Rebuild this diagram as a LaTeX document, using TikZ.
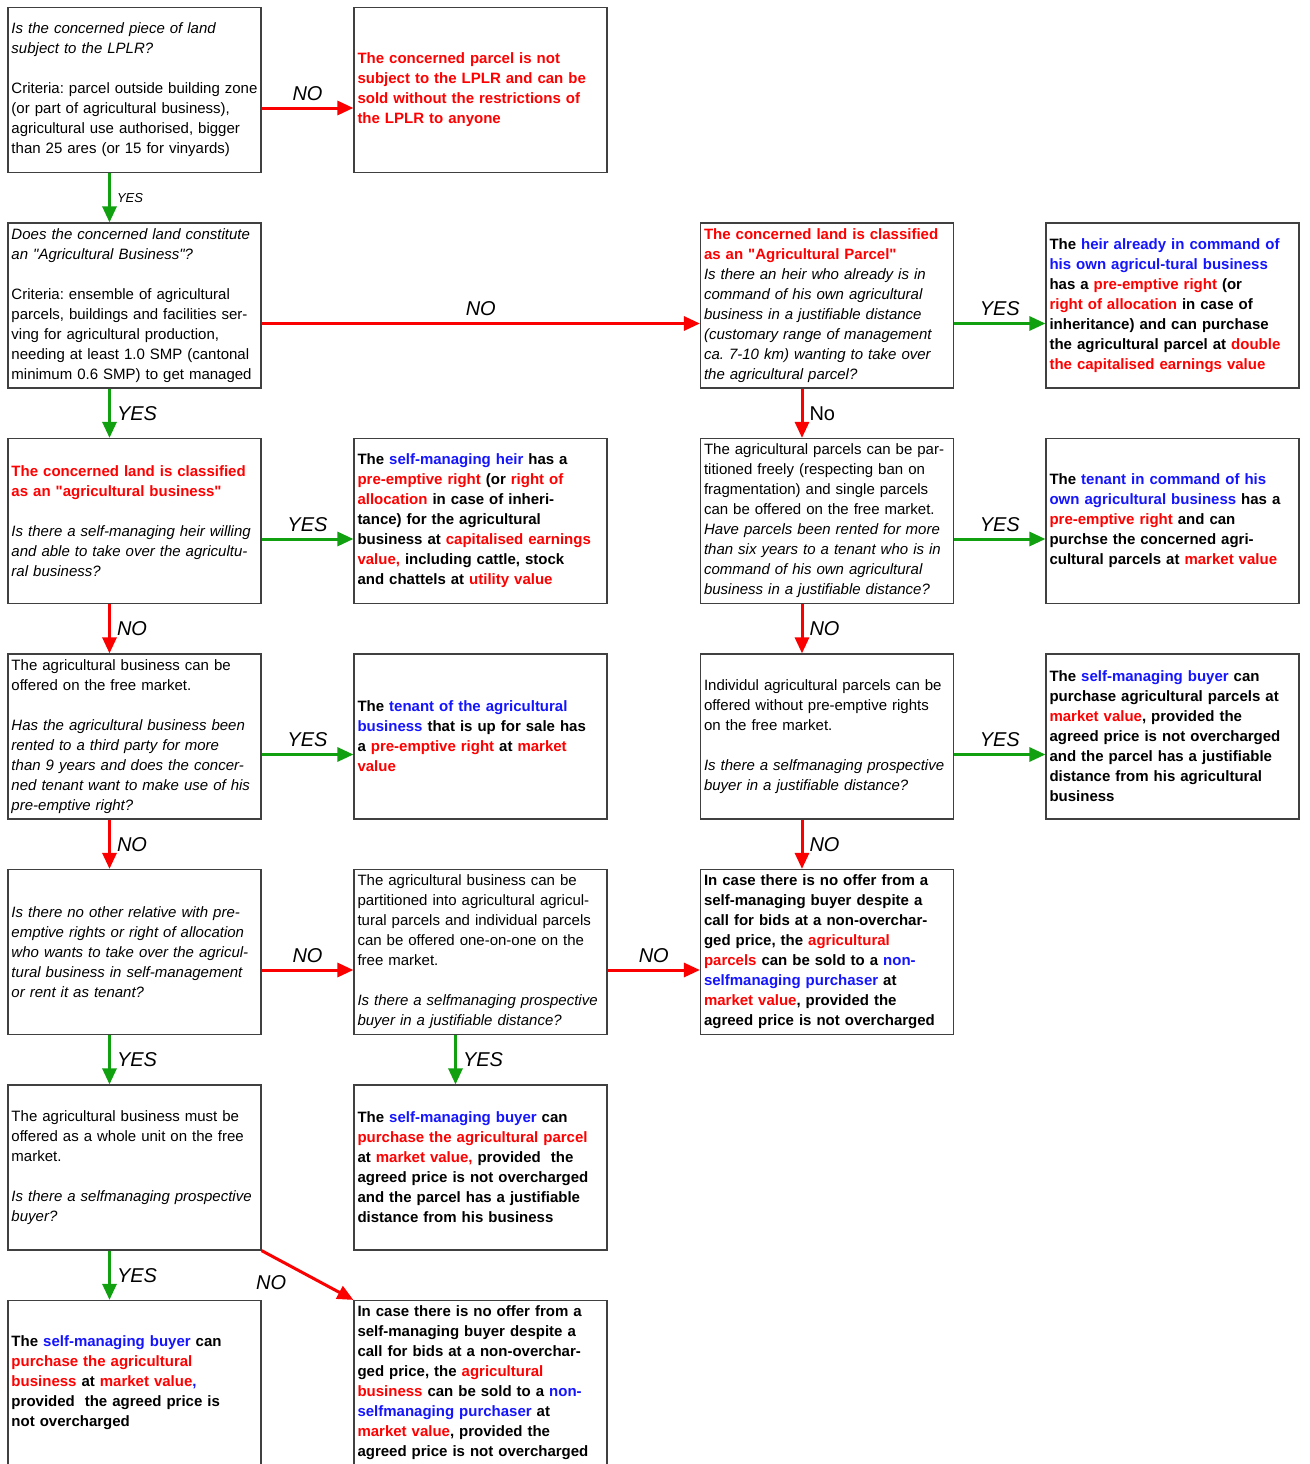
\documentclass[tikz,border=0pt]{standalone}
\usepackage{fontspec}
\setmainfont{Liberation Sans}[Ligatures=TeXOff]
\usetikzlibrary{arrows.meta}

\definecolor{yesgreen}{RGB}{16,160,16}
\definecolor{nored}{RGB}{250,0,0}
\definecolor{boxgray}{RGB}{64,64,64}
\definecolor{kwblue}{RGB}{20,20,255}
\newcommand{\redw}[1]{\textcolor{red}{#1}}
\newcommand{\bluew}[1]{\textcolor{kwblue}{#1}}
\frenchspacing

\begin{document}
\begin{tikzpicture}[x=1pt,y=-1pt,auto,node distance=215.5pt,
	>={Triangle[length=16pt,width=14pt]}]
	\tikzstyle{box}=[draw=boxgray,line width=1.2pt,fill=white,text=black,
	  text width=246pt,inner sep=3.5pt,minimum height=165pt,align=left,
	  font=\fontsize{15}{20}\selectfont]
	\tikzstyle{bbox}=[box,font=\fontsize{15}{20}\selectfont\bfseries]
	\tikzstyle{yes}=[->,draw=yesgreen,line width=3pt]
	\tikzstyle{no}=[->,draw=nored,line width=3pt]
	\tikzstyle{lbl}=[font=\fontsize{20}{24}\selectfont\itshape,text=black,inner sep=6pt]

	\fill[white] (0,0) rectangle (1309,1464);
	\useasboundingbox (0,0) rectangle (1309,1464);

	\node[box] (A1) at (134.5,90) {{\itshape Is the concerned piece of land\\subject to the LPLR?}\\[20pt]
	  Criteria: parcel outside building zone\\(or part of agricultural business),\\agricultural use authorised, bigger\\than 25 ares (or 15 for vinyards)};
	\node[bbox] (B1) [right of=A1, node distance=346pt] {\color{red}The concerned parcel is not\\subject to the LPLR and can be\\sold without the restrictions of\\the LPLR to anyone};

	\node[box] (A2) [below of=A1] {{\itshape Does the concerned land constitute\\an "Agricultural Business"?}\\[20pt]
	  Criteria: ensemble of agricultural\\parcels, buildings and facilities ser-\\ving for agricultural production,\\needing at least 1.0 SMP (cantonal\\minimum 0.6 SMP) to get managed};
	\node[box] (C2) [right of=A2, node distance=692.5pt] {{\bfseries\color{red}The concerned land is classified\\as an "Agricultural Parcel"}\\
	  {\itshape Is there an heir who already is in\\command of his own agricultural\\business in a justifiable distance\\(customary range of management\\ca. 7-10 km) wanting to take over\\the agricultural parcel?}};
	\node[bbox] (D2) [right of=C2, node distance=345.5pt] {The \bluew{heir already in command of}\\\bluew{his own agricul-tural business}\\has a \redw{pre-emptive right} (or\\\redw{right of allocation} in case of\\inheritance) and can purchase\\the agricultural parcel at \redw{double}\\\redw{the capitalised earnings value}};

	\node[box] (A3) [below of=A2] {{\bfseries\color{red}The concerned land is classified\\as an "agricultural business"}\\[20pt]
	  {\itshape Is there a self-managing heir willing\\and able to take over the agricultu-\\ral business?}};
	\node[bbox] (B3) [right of=A3, node distance=346pt] {The \bluew{self-managing heir} has a\\\redw{pre-emptive right} (or \redw{right of}\\\redw{allocation} in case of inheri-\\tance) for the agricultural\\business at \redw{capitalised earnings}\\\redw{value,} including cattle, stock\\and chattels at \redw{utility value}};
	\node[box] (C3) [below of=C2] {The agricultural parcels can be par-\\titioned freely (respecting ban on\\fragmentation) and single parcels\\can be offered on the free market.\\
	  {\itshape Have parcels been rented for more\\than six years to a tenant who is in\\command of his own agricultural\\business in a justifiable distance?}};
	\node[bbox] (D3) [below of=D2] {The \bluew{tenant in command of his}\\\bluew{own agricultural business} has a\\\redw{pre-emptive right} and can\\purchse the concerned agri-\\cultural parcels at \redw{market value}};

	\node[box] (A4) [below of=A3] {The agricultural business can be\\offered on the free market.\\[20pt]
	  {\itshape Has the agricultural business been\\rented to a third party for more\\than 9 years and does the concer-\\ned tenant want to make use of his\\pre-emptive right?}};
	\node[bbox] (B4) [right of=A4, node distance=346pt] {The \bluew{tenant of the agricultural}\\\bluew{business} that is up for sale has\\a \redw{pre-emptive right} at \redw{market}\\\redw{value}};
	\node[box] (C4) [below of=C3] {Individul agricultural parcels can be\\offered without pre-emptive rights\\on the free market.\\[20pt]
	  {\itshape Is there a selfmanaging prospective\\buyer in a justifiable distance?}};
	\node[bbox] (D4) [below of=D3] {The \bluew{self-managing buyer} can\\purchase agricultural parcels at\\\redw{market value}, provided the\\agreed price is not overcharged\\and the parcel has a justifiable\\distance from his agricultural\\business};

	\node[box] (A5) [below of=A4] {{\itshape Is there no other relative with pre-\\emptive rights or right of allocation\\who wants to take over the agricul-\\tural business in self-management\\or rent it as tenant?}};
	\node[box] (B5) [right of=A5, node distance=346pt] {The agricultural business can be\\partitioned into agricultural agricul-\\tural parcels and individual parcels\\can be offered one-on-one on the\\free market.\\[20pt]
	  {\itshape Is there a selfmanaging prospective\\buyer in a justifiable distance?}};
	\node[bbox] (C5) [below of=C4] {In case there is no offer from a\\self-managing buyer despite a\\call for bids at a non-overchar-\\ged price, the \redw{agricultural}\\\redw{parcels} can be sold to a \bluew{non-}\\\bluew{selfmanaging purchaser} at\\\redw{market value}, provided the\\agreed price is not overcharged};

	\node[box] (A6) [below of=A5] {The agricultural business must be\\offered as a whole unit on the free\\market.\\[20pt]
	  {\itshape Is there a selfmanaging prospective\\buyer?}};
	\node[bbox] (B6) [below of=B5] {The \bluew{self-managing buyer} can\\\redw{purchase the agricultural parcel}\\at \redw{market value,} provided\ \ the\\agreed price is not overcharged\\and the parcel has a justifiable\\distance from his business};

	\node[bbox] (A7) [below of=A6] {The \bluew{self-managing buyer} can\\\redw{purchase the agricultural}\\\redw{business} at \redw{market value}\bluew{,}\\provided\ \ the agreed price is\\not overcharged};
	\node[bbox] (B7) [below of=B6] {In case there is no offer from a\\self-managing buyer despite a\\call for bids at a non-overchar-\\ged price, the \redw{agricultural}\\\redw{business} can be sold to a \bluew{non-}\\\bluew{selfmanaging purchaser} at\\\redw{market value}, provided the\\agreed price is not overcharged};

	\path ([yshift=-18pt]A1.east) edge[no] node[lbl] {NO} ([yshift=-18pt]B1.west);
	\path ([xshift=-25pt]A1.south) edge[yes] node[lbl,font=\fontsize{13}{15}\selectfont\itshape] {YES} ([xshift=-25pt]A2.north);
	\path ([yshift=-18pt]A2.east) edge[no] node[lbl] {NO} ([yshift=-18pt]C2.west);
	\path ([yshift=-18pt]C2.east) edge[yes] node[lbl] {YES} ([yshift=-18pt]D2.west);
	\path ([xshift=-25pt]A2.south) edge[yes] node[lbl] {YES} ([xshift=-25pt]A3.north);
	\path ([xshift=-25pt]C2.south) edge[no] node[lbl,font=\fontsize{20}{24}\selectfont] {No} ([xshift=-25pt]C3.north);
	\path ([yshift=-18pt]A3.east) edge[yes] node[lbl] {YES} ([yshift=-18pt]B3.west);
	\path ([yshift=-18pt]C3.east) edge[yes] node[lbl] {YES} ([yshift=-18pt]D3.west);
	\path ([xshift=-25pt]A3.south) edge[no] node[lbl] {NO} ([xshift=-25pt]A4.north);
	\path ([xshift=-25pt]C3.south) edge[no] node[lbl] {NO} ([xshift=-25pt]C4.north);
	\path ([yshift=-18pt]A4.east) edge[yes] node[lbl] {YES} ([yshift=-18pt]B4.west);
	\path ([yshift=-18pt]C4.east) edge[yes] node[lbl] {YES} ([yshift=-18pt]D4.west);
	\path ([xshift=-25pt]A4.south) edge[no] node[lbl] {NO} ([xshift=-25pt]A5.north);
	\path ([xshift=-25pt]C4.south) edge[no] node[lbl] {NO} ([xshift=-25pt]C5.north);
	\path ([yshift=-18pt]A5.east) edge[no] node[lbl] {NO} ([yshift=-18pt]B5.west);
	\path ([yshift=-18pt]B5.east) edge[no] node[lbl] {NO} ([yshift=-18pt]C5.west);
	\path ([xshift=-25pt]A5.south) edge[yes] node[lbl] {YES} ([xshift=-25pt]A6.north);
	\path ([xshift=-25pt]B5.south) edge[yes] node[lbl] {YES} ([xshift=-25pt]B6.north);
	\path ([xshift=-25pt]A6.south) edge[yes] node[lbl] {YES} ([xshift=-25pt]A7.north);
	\path (A6.south east) edge[no] node[lbl,swap,pos=0.35] {NO} (B7.north west);
\end{tikzpicture}
\end{document}
